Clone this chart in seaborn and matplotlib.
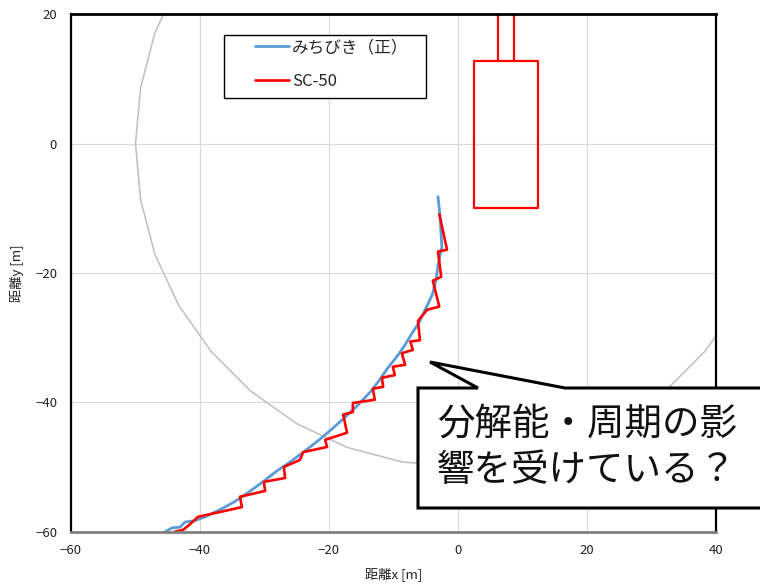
import numpy as np
import pandas as pd
import seaborn as sns
import matplotlib.pyplot as plt
from matplotlib.patches import Polygon, Rectangle
from matplotlib.lines import Line2D

# みちびき(正) の軌跡
michibiki_x = [-3.1, -2.8, -2.5, -3.1, -3.4, -4.0, -5.1, -6.0, -7.3, -8.2, -9.3, -10.9,
               -12.2, -13.6, -15.5, -17.5, -19.4, -21.4, -23.7, -26.0, -28.2, -30.4,
               -32.6, -34.7, -36.9, -39.2, -40.8, -42.3, -43.1, -44.3, -45.4]
michibiki_y = [-8.2, -11.0, -16.0, -18.8, -21.1, -23.4, -25.7, -27.6, -29.6, -31.1, -32.7,
               -34.7, -36.6, -38.4, -40.4, -42.3, -44.0, -45.7, -47.5, -49.2, -50.7, -52.4,
               -54.0, -55.4, -56.6, -57.7, -58.3, -58.5, -59.3, -59.4, -60.0]

# SC-50 の軌跡
sc50_x = [-2.9, -1.7, -3.1, -2.6, -3.9, -2.9, -4.8, -6.2, -5.9, -7.4, -7.0, -8.7, -8.2,
          -10.1, -9.8, -11.8, -11.6, -13.2, -12.9, -16.3, -16.3, -17.8, -17.2, -20.6,
          -20.3, -24.0, -24.5, -27.0, -26.8, -30.1, -29.9, -33.8, -33.5, -40.3, -41.6,
          -42.6, -43.9]
sc50_y = [-10.9, -16.4, -16.7, -20.6, -21.2, -25.2, -25.7, -27.4, -30.4, -30.6, -31.9,
          -32.4, -34.2, -34.5, -35.8, -36.2, -37.6, -37.9, -39.6, -40.1, -41.5, -41.9,
          -44.7, -45.8, -46.9, -47.7, -48.9, -50.0, -51.7, -52.3, -53.7, -54.6, -56.2,
          -57.7, -58.9, -59.7, -60.0]

# 半径50mの円(灰色)
circle_x = [-43.3, -47.0, -49.2, -50.0, -49.2, -47.0, -43.3, -38.3, -32.1, -25.0, -17.1,
            -8.7, 0.0, 8.7, 17.1, 25.0, 32.1, 38.3, 43.3]
circle_y = [25.0, 17.1, 8.7, 0.0, -8.7, -17.1, -25.0, -32.1, -38.3, -43.3, -47.0,
            -49.2, -50.0, -49.2, -47.0, -43.3, -38.3, -32.1, -25.0]

# 建物(赤枠)
bldg_x = [2.5, 12.4, 12.4, 2.5, 2.5]
bldg_y = [12.7, 12.7, -10.0, -10.0, 12.7]
stem1_x, stem2_x = [6.2, 6.2], [8.7, 8.7]
stem_y = [12.7, 20.0]

x_ticks = [-60, -40, -20, 0, 20, 40]
y_ticks = [-60, -40, -20, 0, 20]

sns.set_style("white")
plt.rcParams["font.family"] = ["Noto Sans CJK JP", "DejaVu Sans"]

fig = plt.figure(figsize=(7.6, 5.84), dpi=100)
ax = fig.add_axes([0.0934, 0.0896, 0.8487, 0.886])

df_c = pd.DataFrame({"x": circle_x, "y": circle_y})
df_m = pd.DataFrame({"x": michibiki_x, "y": michibiki_y})
df_s = pd.DataFrame({"x": sc50_x, "y": sc50_y})

sns.lineplot(data=df_c, x="x", y="y", sort=False, estimator=None, color="#BFBFBF", lw=1.1, ax=ax)
sns.lineplot(data=df_m, x="x", y="y", sort=False, estimator=None, color="#5B9BD5", lw=2.0, ax=ax)
sns.lineplot(data=df_s, x="x", y="y", sort=False, estimator=None, color="#FF0000", lw=1.9, ax=ax)
ax.plot(bldg_x, bldg_y, color="#FF0000", lw=1.6)
ax.plot(stem1_x, stem_y, color="#FF0000", lw=1.6)
ax.plot(stem2_x, stem_y, color="#FF0000", lw=1.6)

ax.set_xlim(-60, 40)
ax.set_ylim(-60, 20)
ax.set_xticks(x_ticks)
ax.set_yticks(y_ticks)
ax.grid(True, color="#D9D9D9", lw=0.8)
ax.tick_params(length=0, labelsize=9.5, colors="#222222")
ax.tick_params(axis="x", pad=9)
ax.tick_params(axis="y", pad=10)
ax.set_xlabel("距離x [m]", fontsize=9.5, color="#222222", labelpad=7)
ax.set_ylabel("距離y [m]", fontsize=9.5, color="#222222", labelpad=8)

for side in ["top", "left", "right"]:
    ax.spines[side].set_color("black")
    ax.spines[side].set_linewidth(1.6)
ax.spines["top"].set_linewidth(2.0)
ax.spines["bottom"].set_color("#808080")
ax.spines["bottom"].set_linewidth(2.0)

W, H = 760, 584

# 凡例(枠は別に描く)
frame = Rectangle((224 / W, 1 - 98 / H), 202 / W, 63 / H, transform=fig.transFigure,
                  facecolor="white", edgecolor="black", lw=1.0, zorder=3)
fig.add_artist(frame)
handles = [Line2D([], [], color="#5B9BD5", lw=2.0), Line2D([], [], color="#FF0000", lw=1.9)]
leg = fig.legend(handles, ["みちびき（正）", "SC-50"], loc="upper left",
                 bbox_to_anchor=(252 / W, 1 - 36 / H), fontsize=12, frameon=False,
                 handlelength=2.0, handletextpad=0.2, borderpad=0.2, labelspacing=1.0,
                 borderaxespad=0)
leg.set_zorder(4)

# 吹き出し
pts = [(418, 388), (478, 388), (430, 362), (565, 388), (775, 388), (775, 508), (418, 508)]
callout = Polygon([(px / W, 1 - py / H) for px, py in pts], closed=True, facecolor="white",
                  edgecolor="black", lw=2.2, transform=fig.transFigure, zorder=5)
fig.add_artist(callout)
fig.text(437 / W, 1 - 447 / H, "分解能・周期の影\n響を受けている？", fontsize=27,
         va="center", ha="left", linespacing=1.25, zorder=6, color="#111111")

fig.savefig("out.png", dpi=100)
